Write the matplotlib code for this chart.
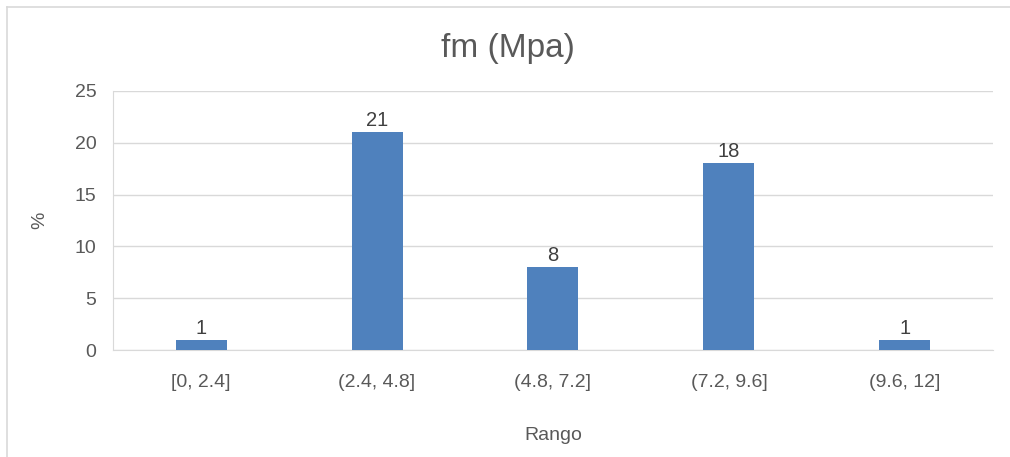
import matplotlib.pyplot as plt
from matplotlib.lines import Line2D

CATEGORIES = ["[0, 2.4]", "(2.4, 4.8]", "(4.8, 7.2]", "(7.2, 9.6]", "(9.6, 12]"]
PERCENT = [1, 21, 8, 18, 1]
Y_TICKS = [0, 5, 10, 15, 20, 25]

BAR_COLOR = "#4F81BD"
TEXT_COLOR = "#595959"
GRID_COLOR = "#D9D9D9"

plt.rcParams["font.family"] = ["Liberation Sans", "DejaVu Sans"]

fig = plt.figure(figsize=(10.10, 4.57), dpi=100)
ax = fig.add_axes([0.112, 0.234, 0.871, 0.567])

x = range(len(CATEGORIES))
bars = ax.bar(x, PERCENT, width=0.29, color=BAR_COLOR, zorder=3)
for rect, val in zip(bars, PERCENT):
    ax.annotate(f"{val}", (rect.get_x() + rect.get_width() / 2, val),
                xytext=(0, 1.5), textcoords="offset points",
                ha="center", va="bottom", fontsize=14.5, color="#404040")

ax.set_xlim(-0.5, len(CATEGORIES) - 0.5)
ax.set_ylim(0, 25)
ax.set_yticks(Y_TICKS)
ax.set_xticks(list(x))
ax.set_xticklabels(CATEGORIES)
ax.yaxis.grid(True, color=GRID_COLOR, linewidth=1, zorder=0)
ax.tick_params(axis="both", length=0, labelsize=14, colors=TEXT_COLOR)
ax.tick_params(axis="x", pad=17.5)
ax.tick_params(axis="y", pad=12)

for side in ("top", "right"):
    ax.spines[side].set_visible(False)
ax.spines["left"].set_color(GRID_COLOR)
ax.spines["bottom"].set_color(GRID_COLOR)

ax.set_xlabel("Rango", fontsize=14, color=TEXT_COLOR, labelpad=26)
ax.set_ylabel("%", fontsize=14, color=TEXT_COLOR, labelpad=19)
fig.text(0.503, 0.893, "fm (Mpa)", ha="center", va="center",
         fontsize=24, color=TEXT_COLOR)

# light chart-area frame on the top and left edges
fig.add_artist(Line2D([7 / 1010, 7 / 1010], [0, 1 - 7 / 457],
                      transform=fig.transFigure, color=GRID_COLOR, lw=1.2))
fig.add_artist(Line2D([7 / 1010, 1], [1 - 7 / 457, 1 - 7 / 457],
                      transform=fig.transFigure, color=GRID_COLOR, lw=1.2))

fig.savefig("out.png", dpi=100)
